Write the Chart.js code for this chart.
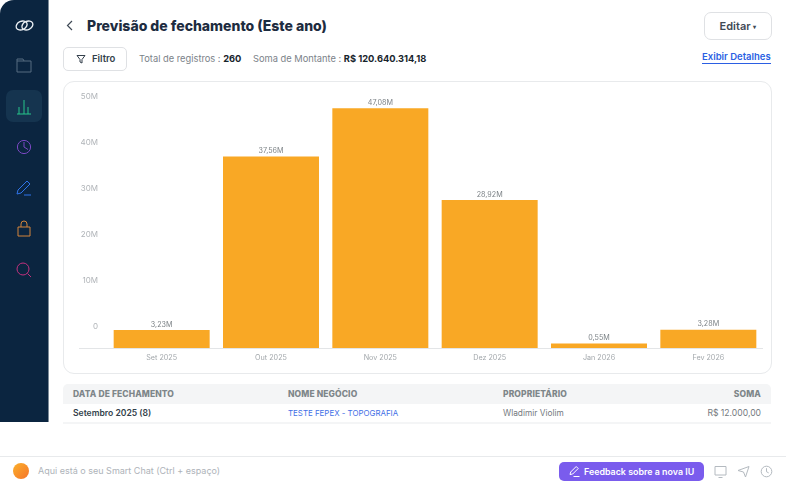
<!DOCTYPE html>
<html lang="pt-BR">
<head>
<meta charset="utf-8">
<title>Previsão de fechamento</title>
<script src="https://cdn.jsdelivr.net/npm/chart.js@4"></script>
<style>
html, body { margin: 0; padding: 0; background: #fff; }
body { width: 786px; height: 486px; position: relative; overflow: hidden; font-family: Inter, sans-serif; color: #1c2b3a; }
.abs { position: absolute; white-space: nowrap; }
#side { left: 0; top: 0; width: 48px; height: 422px; background: #0b2540; border-top-left-radius: 14px; border-right: 1px solid #7d8b98; box-sizing: content-box; }
#side svg { position: absolute; left: 14px; width: 20px; height: 20px; fill: none; stroke-width: 1; }
#active { position: absolute; left: 6px; top: 90px; width: 36px; height: 32px; border-radius: 7px; background: #15344f; }
#title { left: 87px; top: 16px; font-size: 14px; font-weight: 800; line-height: 20px; color: #1d2c40; }
#edit { left: 704px; top: 12px; width: 66px; height: 26px; border: 1px solid #dfe1e4; border-radius: 7px; font-size: 11px; font-weight: 600; line-height: 26px; text-align: center; color: #3f4a56; }
#filter { left: 63px; top: 47px; width: 62px; height: 22px; border: 1px solid #dfe1e4; border-radius: 5px; font-size: 9.5px; font-weight: 600; line-height: 22px; color: #333f4b; text-indent: 28px; }
.stat { top: 52px; font-size: 9.3px; line-height: 13px; color: #7b8289; }
.stat b { color: #17242c; font-weight: 700; }
#details { left: 702px; top: 51px; font-size: 9.5px; font-weight: 600; line-height: 12px; color: #2b5fe3; border-bottom: 1px solid #2b5fe3; }
#card { left: 63px; top: 81px; width: 707px; height: 291px; border: 1px solid #e8eaec; border-radius: 11px; }
#chartBox { left: 63px; top: 81px; width: 708px; height: 292px; }
#thead { left: 63px; top: 384px; width: 708px; height: 20px; background: #f4f5f6; border-radius: 5px 5px 0 0; }
#rowline { left: 63px; top: 422px; width: 708px; height: 2px; background: #f4f5f6; }
.th { top: 388px; font-size: 8.5px; font-weight: 800; line-height: 12px; color: #7e8689; letter-spacing: .1px; }
.td { top: 407px; font-size: 8.3px; line-height: 12px; color: #73797e; }
#footline { left: 0; top: 456px; width: 786px; height: 1px; background: #e8eaec; }
#orb { left: 13px; top: 463px; width: 16px; height: 16px; border-radius: 50%; background: linear-gradient(135deg, #fbb02b, #f5742a); }
#chatText { left: 38px; top: 464px; font-size: 9px; line-height: 13px; color: #aeb3b9; }
#feedback { left: 559px; top: 462px; width: 145px; height: 19px; border-radius: 5px; background: #7a5ced; color: #fff; font-size: 8.9px; font-weight: 600; line-height: 19px; text-indent: 25px; }
svg.ico { position: absolute; fill: none; }
</style>
</head>
<body>
<div class="abs" id="side">
  <div id="active"></div>
  <svg style="top:14px;left:13px;width:23px;height:23px" viewBox="0 0 20 20" stroke="#e9eef2"><ellipse cx="7.5" cy="10" rx="5" ry="3.6" transform="rotate(-25 7.5 10)" stroke-width="1.2"/><ellipse cx="12.5" cy="10" rx="5" ry="3.6" transform="rotate(-25 12.5 10)" stroke-width="1.2"/></svg>
  <svg style="top:55px" viewBox="0 0 20 20" stroke="#566c80"><path d="M3 6h14v11H3zM3 6V4h6l1 2"/></svg>
  <svg style="top:97px" viewBox="0 0 20 20" stroke="#27c48b"><path d="M3 17h14M5 17V10M10 17V3M14 17V10"/></svg>
  <svg style="top:137px" viewBox="0 0 20 20" stroke="#7b48c4"><circle cx="10" cy="10" r="6.6"/><path d="M10 5v5l4 2.5"/></svg>
  <svg style="top:178px" viewBox="0 0 20 20" stroke="#2f74ea"><path d="M3 16l1-4 9-9 3 3-9 9zM10 17h7"/></svg>
  <svg style="top:219px" viewBox="0 0 20 20" stroke="#d5853a"><path d="M4 8h12v9H4zM7 8V5a3 3 0 0 1 6 0v3"/></svg>
  <svg style="top:260px" viewBox="0 0 20 20" stroke="#c2317e"><circle cx="9" cy="9" r="6"/><path d="M13.5 13.5l3.5 3.5"/></svg>
</div>

<svg class="ico" style="left:65px;top:20px" width="10" height="11" viewBox="0 0 10 11" stroke="#3f4a56" stroke-width="1.2"><path d="M7 1L2.5 5.5 7 10"/></svg>
<div class="abs" id="title">Previsão de fechamento (Este ano)</div>
<div class="abs" id="edit">Editar <span style="font-size:6px;vertical-align:1px">▾</span></div>

<div class="abs" id="filter">Filtro</div>
<svg class="ico" style="left:76px;top:54px" width="10" height="10" viewBox="0 0 10 10" stroke="#333f4b" stroke-width="1"><path d="M1 1.5h8L6 5.5V9L4 8V5.5z"/></svg>
<div class="abs stat" style="left:139px">Total de registros : <b>260</b></div>
<div class="abs stat" style="left:253px">Soma de Montante : <b>R$ 120.640.314,18</b></div>
<div class="abs" id="details">Exibir Detalhes</div>

<div class="abs" id="card"></div>
<div class="abs" id="chartBox"><canvas id="myChart"></canvas></div>

<div class="abs" id="thead"></div>
<div class="abs th" style="left:73px">DATA DE FECHAMENTO</div>
<div class="abs th" style="left:288px">NOME NEGÓCIO</div>
<div class="abs th" style="left:503px">PROPRIETÁRIO</div>
<div class="abs th" style="right:25px">SOMA</div>
<div class="abs td" style="left:73px;font-weight:600;font-size:8.6px;color:#333f4b">Setembro 2025 (8)</div>
<div class="abs td" style="left:288px;font-size:7.9px;color:#3f6fe6">TESTE FEPEX - TOPOGRAFIA</div>
<div class="abs td" style="left:503px">Wladimir Violim</div>
<div class="abs td" style="right:25px;font-size:8.6px">R$ 12.000,00</div>
<div class="abs" id="rowline"></div>

<div class="abs" id="footline"></div>
<div class="abs" id="orb"></div>
<div class="abs" id="chatText">Aqui está o seu Smart Chat (Ctrl + espaço)</div>
<div class="abs" id="feedback">Feedback sobre a nova IU</div>
<svg class="ico" style="left:568px;top:465px" width="13" height="13" viewBox="0 0 13 13" stroke="#fff" stroke-width="1"><path d="M2 9.5l.7-2.5 5.5-5.5 2 2L4.7 9zM5.5 11.5h6"/></svg>
<svg class="ico" style="left:714px;top:465px" width="13" height="14" viewBox="0 0 13 14" stroke="#b4bac0" stroke-width="1"><path d="M1 1.5h11v8.5H1zM4.5 12.5h4"/></svg>
<svg class="ico" style="left:737px;top:465px" width="13" height="13" viewBox="0 0 13 13" stroke="#b4bac0" stroke-width="1"><path d="M1 5.5L12 1.5 8.5 12 6.5 7z"/></svg>
<svg class="ico" style="left:760px;top:465px" width="13" height="13" viewBox="0 0 13 13" stroke="#b4bac0" stroke-width="1"><circle cx="6.5" cy="6.5" r="5.3"/><path d="M6.5 3.2v3.5l2.2 1.2"/></svg>

<script>
const categories = ['Set 2025', 'Out 2025', 'Nov 2025', 'Dez 2025', 'Jan 2026', 'Fev 2026'];
const montante = [3.23, 37.56, 47.08, 28.92, 0.55, 3.28];
const yTicks = [0, 10, 20, 30, 40, 50];

// no datalabels plugin available, so the value labels go on here
const valueLabels = {
    id: 'valueLabels',
    afterDatasetsDraw(chart) {
        const c = chart.ctx;
        c.save();
        c.font = '7.2px Inter';
        c.fillStyle = '#7d8387';
        c.textAlign = 'center';
        c.textBaseline = 'bottom';
        chart.getDatasetMeta(0).data.forEach((bar, i) => {
            c.fillText(montante[i].toFixed(2).replace('.', ',') + 'M', bar.x, bar.y - 2);
        });
        c.restore();
    }
};

// baseline runs under the y labels too
const baseline = {
    id: 'baseline',
    afterDraw(chart) {
        const a = chart.chartArea;
        const c = chart.ctx;
        c.save();
        c.strokeStyle = '#e3e5e7';
        c.lineWidth = 1;
        c.beginPath();
        c.moveTo(a.left - 28, a.bottom + 0.5);
        c.lineTo(a.right, a.bottom + 0.5);
        c.stroke();
        c.restore();
    }
};

new Chart(document.getElementById('myChart'), {
    type: 'bar',
    data: {
        labels: categories,
        datasets: [{
            label: 'Soma de Montante',
            data: montante,
            base: -0.34,
            backgroundColor: '#f9a825',
            categoryPercentage: 1,
            barPercentage: 0.878
        }]
    },
    options: {
        responsive: true,
        maintainAspectRatio: false,
        animation: false,
        layout: { autoPadding: false, padding: { left: 16, right: 8, top: 9, bottom: 0 } },
        plugins: { legend: { display: false }, tooltip: { enabled: false } },
        scales: {
            x: {
                grid: { display: false, drawTicks: false },
                border: { display: false },
                afterFit: s => { s.height = 25; },
                ticks: { color: '#a2a7ab', font: { family: 'Inter', size: 7.2 }, padding: 6, maxRotation: 0 }
            },
            y: { display: false, min: -0.34, max: 49.76 },
            // the reference prints its axis labels off the bar scale, so they get their own range
            yLabels: {
                position: 'left',
                min: -4.545,
                max: 50.32,
                grid: { display: false, drawTicks: false },
                border: { display: false },
                afterFit: s => { s.width = 28; },
                afterBuildTicks: s => { s.ticks = yTicks.map(v => ({ value: v })); },
                ticks: {
                    color: '#b0b4b8',
                    font: { family: 'Inter', size: 8 },
                    padding: 9,
                    autoSkip: false,
                    callback: v => v === 0 ? '0' : v + 'M'
                }
            }
        }
    },
    plugins: [valueLabels, baseline]
});
</script>
</body>
</html>
